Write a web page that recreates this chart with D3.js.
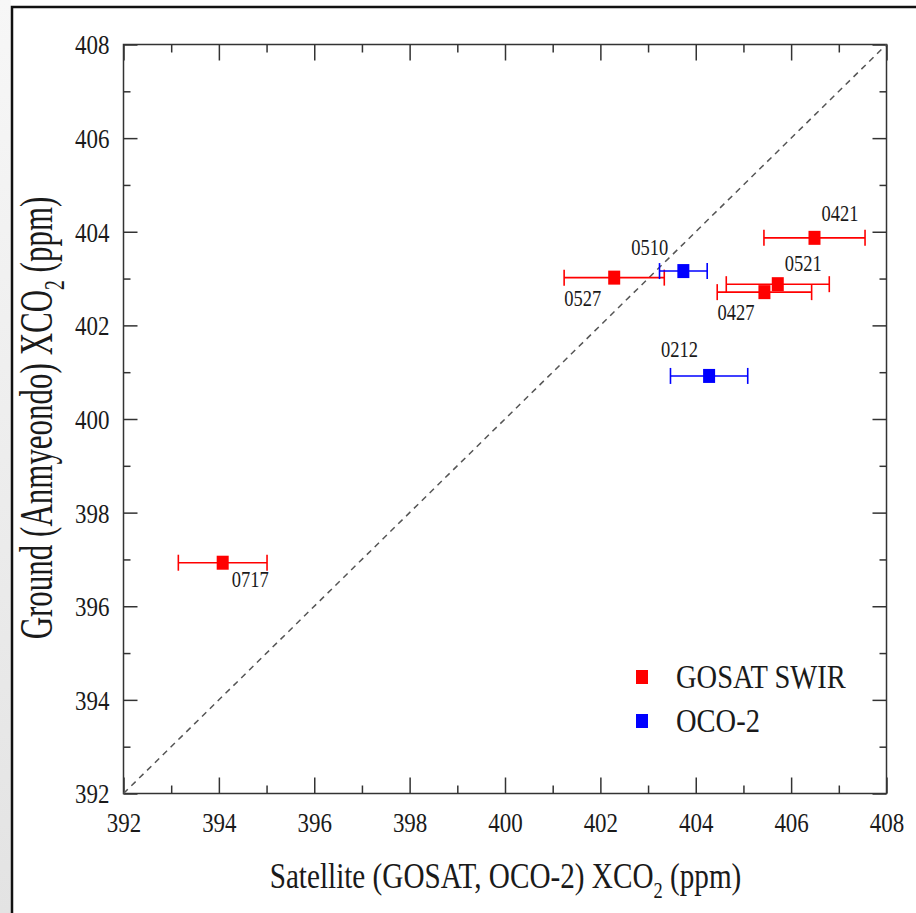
<!DOCTYPE html>
<html>
<head>
<meta charset="utf-8">
<script src="https://cdn.jsdelivr.net/npm/d3@7"></script>
<style>
  html, body { margin: 0; padding: 0; background: #fff; }
  svg text { font-family: "Liberation Serif", "Times New Roman", serif; fill: #1a1a1a; }
</style>
</head>
<body>
<svg id="chart" width="916" height="913"></svg>
<script>
// values
const labels    = ["0421", "0521", "0427", "0527", "0717", "0510", "0212"];
const satellite = [406.49, 405.72, 405.44, 402.29, 394.08, 403.74, 404.28];
const ground    = [403.87, 402.88, 402.71, 403.02, 396.93, 403.16, 400.92];
const satErr    = [1.06, 1.08, 0.99, 1.05, 0.93, 0.50, 0.81];
const sensor    = ["GOSAT SWIR", "GOSAT SWIR", "GOSAT SWIR", "GOSAT SWIR", "GOSAT SWIR", "OCO-2", "OCO-2"];
const seriesNames = ["GOSAT SWIR", "OCO-2"];
const seriesColors = ["#ff0000", "#0000ff"];
const axisDomain = [392, 408];
const majorTicks = [392, 394, 396, 398, 400, 402, 404, 406, 408];
const minorTicks = [393, 395, 397, 399, 401, 403, 405, 407];

// where each point's date label sits, relative to the marker
const labelOffsets = {
  "0421": [7, -17], "0521": [7, -13], "0427": [-47, 28], "0527": [-50, 28],
  "0717": [9, 24], "0510": [-52, -16], "0212": [-48, -19]
};

const stretch = 1.2;   // the original figure is a bit taller than wide
const margin = {left: 123.5, top: 44.5};
const width = 763, height = 749;

const svg = d3.select("#chart");

// grey page edge + frame of the slide
const grad = svg.append("defs").append("linearGradient")
    .attr("id", "edge").attr("x1", 0).attr("y1", 0).attr("x2", 0).attr("y2", 1);
grad.append("stop").attr("offset", "0%").attr("stop-color", "#f7f7f7");
grad.append("stop").attr("offset", "100%").attr("stop-color", "#e3e3e3");
svg.append("rect").attr("x", 0).attr("y", 0).attr("width", 11).attr("height", 913).attr("fill", "url(#edge)");
svg.append("path")
    .attr("d", "M12,913V7H916")
    .attr("fill", "none").attr("stroke", "#111").attr("stroke-width", 2.5);

const x = d3.scaleLinear().domain(axisDomain).range([0, width]);
const y = d3.scaleLinear().domain(axisDomain).range([height, 0]);

const g = svg.append("g").attr("transform", "translate(" + margin.left + "," + margin.top + ")");

function tickAxis(axis, ticks, size, tr) {
  const a = g.append("g").attr("class", "axis")
      .attr("transform", tr)
      .call(axis.tickValues(ticks).tickSizeInner(size).tickSizeOuter(0).tickFormat(""));
  a.select(".domain").remove();
  a.selectAll("line").attr("stroke", "#333").attr("stroke-width", 1.5);
  return a;
}

// major + minor ticks, mirrored on all sides, pointing inward
tickAxis(d3.axisBottom(x), majorTicks, -16, "translate(0," + height + ")");
tickAxis(d3.axisBottom(x), minorTicks, -8, "translate(0," + height + ")");
tickAxis(d3.axisTop(x), majorTicks, -16, "translate(0,0)");
tickAxis(d3.axisTop(x), minorTicks, -8, "translate(0,0)");
tickAxis(d3.axisLeft(y), majorTicks, -14, "translate(0,0)");
tickAxis(d3.axisLeft(y), minorTicks, -7, "translate(0,0)");
tickAxis(d3.axisRight(y), majorTicks, -14, "translate(" + width + ",0)");
tickAxis(d3.axisRight(y), minorTicks, -7, "translate(" + width + ",0)");

// tick labels
const xLab = g.append("g").attr("transform", "translate(0," + height + ")")
    .call(d3.axisBottom(x).tickValues(majorTicks).tickSize(0).tickFormat(d3.format("d")));
xLab.select(".domain").remove();
xLab.selectAll("text")
    .attr("y", 39 / stretch).attr("dy", 0)
    .attr("transform", "scale(1," + stretch + ")")
    .style("font-size", "23px").attr("font-family", null);

const yLab = g.append("g")
    .call(d3.axisLeft(y).tickValues(majorTicks).tickSize(0).tickFormat(d3.format("d")));
yLab.select(".domain").remove();
yLab.selectAll("text")
    .attr("x", -14).attr("dy", "0.34em")
    .attr("transform", "scale(1," + stretch + ")")
    .style("font-size", "23px").attr("font-family", null);

// plot box
g.append("rect").attr("width", width).attr("height", height)
    .attr("fill", "none").attr("stroke", "#333").attr("stroke-width", 1.5);

// 1:1 line
g.append("line")
    .attr("x1", x(axisDomain[0])).attr("y1", y(axisDomain[0]))
    .attr("x2", x(axisDomain[1])).attr("y2", y(axisDomain[1]))
    .attr("stroke", "#555").attr("stroke-width", 1.5).attr("stroke-dasharray", "6,5");

const data = labels.map(function(d, i) {
  return {label: d, sx: satellite[i], gy: ground[i], err: satErr[i], sensor: sensor[i]};
});
const color = d3.scaleOrdinal().domain(seriesNames).range(seriesColors);

const pts = g.selectAll(".pt").data(data).enter().append("g").attr("class", "pt");
pts.append("line")
    .attr("x1", function(d) { return x(d.sx - d.err); })
    .attr("x2", function(d) { return x(d.sx + d.err); })
    .attr("y1", function(d) { return y(d.gy); })
    .attr("y2", function(d) { return y(d.gy); })
    .attr("stroke", function(d) { return color(d.sensor); }).attr("stroke-width", 1.6);
[-1, 1].forEach(function(s) {
  pts.append("line")
      .attr("x1", function(d) { return x(d.sx + s * d.err); })
      .attr("x2", function(d) { return x(d.sx + s * d.err); })
      .attr("y1", function(d) { return y(d.gy) - 8; })
      .attr("y2", function(d) { return y(d.gy) + 8; })
      .attr("stroke", function(d) { return color(d.sensor); }).attr("stroke-width", 1.6);
});
pts.append("rect")
    .attr("x", function(d) { return x(d.sx) - 6; })
    .attr("y", function(d) { return y(d.gy) - 7; })
    .attr("width", 12).attr("height", 14)
    .attr("fill", function(d) { return color(d.sensor); });
pts.append("g")
    .attr("transform", function(d) {
      const o = labelOffsets[d.label];
      return "translate(" + (x(d.sx) + o[0]) + "," + (y(d.gy) + o[1]) + ") scale(1," + stretch + ")";
    })
  .append("text")
    .style("font-size", "18.5px")
    .text(function(d) { return d.label; });

// legend
const leg = g.selectAll(".leg").data(seriesNames).enter().append("g")
    .attr("class", "leg")
    .attr("transform", function(d, i) { return "translate(" + (642 - margin.left) + "," + (677 - margin.top + i * 44) + ")"; });
leg.append("rect").attr("x", -6).attr("y", -7).attr("width", 12).attr("height", 14)
    .attr("fill", function(d) { return color(d); });
leg.append("g").attr("transform", "translate(34,11) scale(1," + stretch + ")")
  .append("text").style("font-size", "28.5px").text(function(d) { return d; });

// axis titles
function title(parent, main, rest, size, sub) {
  const t = parent.append("text").attr("text-anchor", "middle").style("font-size", size + "px");
  t.append("tspan").text(main);
  t.append("tspan").attr("dy", sub).style("font-size", (size * 0.63) + "px").text("2");
  t.append("tspan").attr("dy", -sub).text(rest);
  return t;
}
const xt = svg.append("g").attr("transform", "translate(505.5,888) scale(1," + stretch + ")");
title(xt, "Satellite (GOSAT, OCO-2) XCO", " (ppm)", 29.2, 8);
const yt = svg.append("g").attr("transform", "translate(52,418) scale(1.5,1) rotate(-90)");
title(yt, "Ground (Anmyeondo) XCO", " (ppm)", 31, 8);
</script>
</body>
</html>
